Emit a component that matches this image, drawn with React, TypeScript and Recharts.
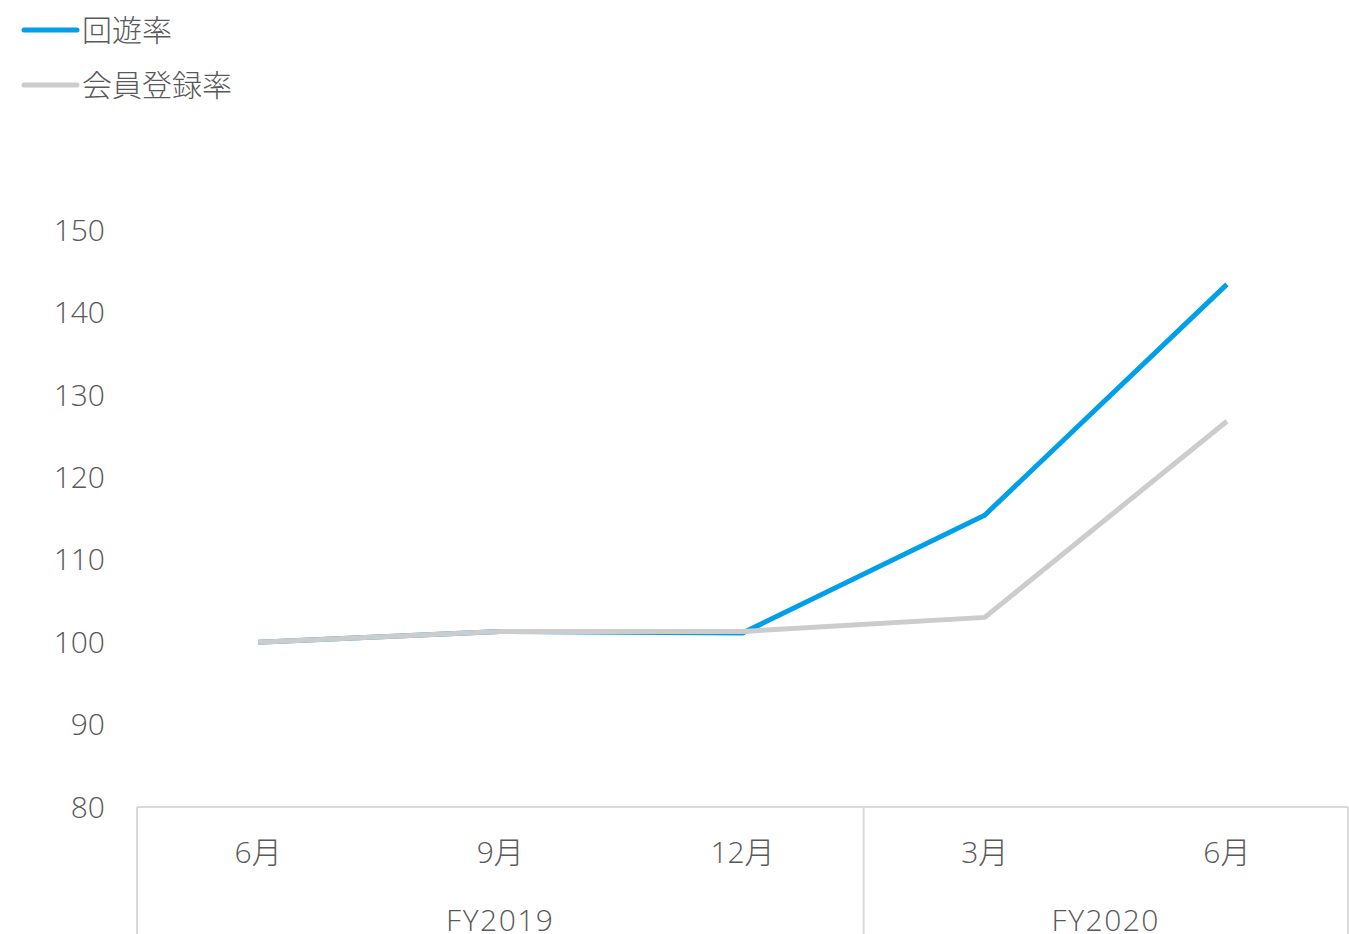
import React from 'react';
import { LineChart, Line, XAxis, YAxis } from 'recharts';

const months = ['6月', '9月', '12月', '3月', '6月'];
const fiscalYears = ['FY2019', 'FY2019', 'FY2019', 'FY2020', 'FY2020'];
const kaiyuRate = [100, 101.3, 101.1, 115.4, 143.4];
const memberRate = [100, 101.3, 101.3, 103.0, 126.8];
const yTicks = [80, 90, 100, 110, 120, 130, 140, 150];

const data = months.map((m, i) => ({
  key: i,
  month: m,
  fy: fiscalYears[i],
  kaiyu: kaiyuRate[i],
  member: memberRate[i],
}));

const FONT = "'Open Sans', 'Noto Sans CJK JP', sans-serif";
const TEXT = '#595959';
const AXIS = '#d9d9d9';
const PLOT_LEFT = 137;
const BAND = (1348 - PLOT_LEFT) / months.length;

const legendItems = [
  { label: '回遊率', color: '#00a0e9' },
  { label: '会員登録率', color: '#cccccc' },
];

const LegendBox = () => (
  <div style={{ position: 'absolute', left: 20, top: 2, zIndex: 1 }}>
    {legendItems.map((it) => (
      <div key={it.label} style={{ display: 'flex', alignItems: 'center', height: 55 }}>
        <svg width={62} height={10}>
          <line x1={4} y1={5} x2={57} y2={5} stroke={it.color} strokeWidth={5} strokeLinecap="round" />
        </svg>
        <span style={{ fontFamily: FONT, fontSize: 30, color: TEXT, fontWeight: 300, lineHeight: '30px' }}>
          {it.label}
        </span>
      </div>
    ))}
  </div>
);

// group row under the month labels: fiscal year names plus separators
const FyTick = (props: any) => {
  const { x, y, index } = props;
  const label = fiscalYears[index];
  const first = fiscalYears.indexOf(label);
  const last = fiscalYears.lastIndexOf(label);
  const showText = index === Math.floor((first + last) / 2);
  const textX = x + ((first + last) / 2 - index) * BAND;
  return (
    <g>
      {index === 0 && (
        <line x1={x - BAND / 2} y1={y - 60} x2={x - BAND / 2} y2={y + 70} stroke={AXIS} strokeWidth={2} />
      )}
      {index === last && (
        <line x1={x + BAND / 2} y1={y - 60} x2={x + BAND / 2} y2={y + 70} stroke={AXIS} strokeWidth={2} />
      )}
      {showText && (
        <text
          x={textX}
          y={y + 64}
          textAnchor="middle"
          fill={TEXT}
          fontFamily={FONT}
          fontSize={30}
          fontWeight={300}
          letterSpacing={1.5}
        >
          {label}
        </text>
      )}
    </g>
  );
};

export default function App() {
  return (
    <div style={{ position: 'absolute', left: 0, top: 0, width: 1349, height: 934 }}>
      <LegendBox />
      <LineChart width={1349} height={934} data={data} margin={{ top: 230, right: 1, bottom: 0, left: 0 }}>
        <YAxis
          domain={[80, 150]}
          ticks={yTicks}
          width={PLOT_LEFT}
          axisLine={false}
          tickLine={false}
          tickSize={0}
          tickMargin={32}
          tick={{ fill: TEXT, fontSize: 30, fontFamily: FONT, fontWeight: 300 }}
        />
        <XAxis
          dataKey="key"
          tickFormatter={(v: number) => months[v]}
          height={60}
          padding={{ left: BAND / 2, right: BAND / 2 }}
          axisLine={{ stroke: AXIS, strokeWidth: 2 }}
          tickLine={false}
          tickSize={0}
          tickMargin={35}
          tick={{ fill: TEXT, fontSize: 30, fontFamily: FONT, fontWeight: 300 }}
        />
        <XAxis
          xAxisId="fy"
          dataKey="key"
          height={67}
          padding={{ left: BAND / 2, right: BAND / 2 }}
          axisLine={false}
          tickLine={false}
          tickSize={0}
          tickMargin={0}
          tick={<FyTick />}
        />
        <Line dataKey="kaiyu" name="回遊率" stroke="#00a0e9" strokeWidth={5} dot={false} isAnimationActive={false} />
        <Line dataKey="member" name="会員登録率" stroke="#cccccc" strokeWidth={5} dot={false} isAnimationActive={false} />
      </LineChart>
    </div>
  );
}
